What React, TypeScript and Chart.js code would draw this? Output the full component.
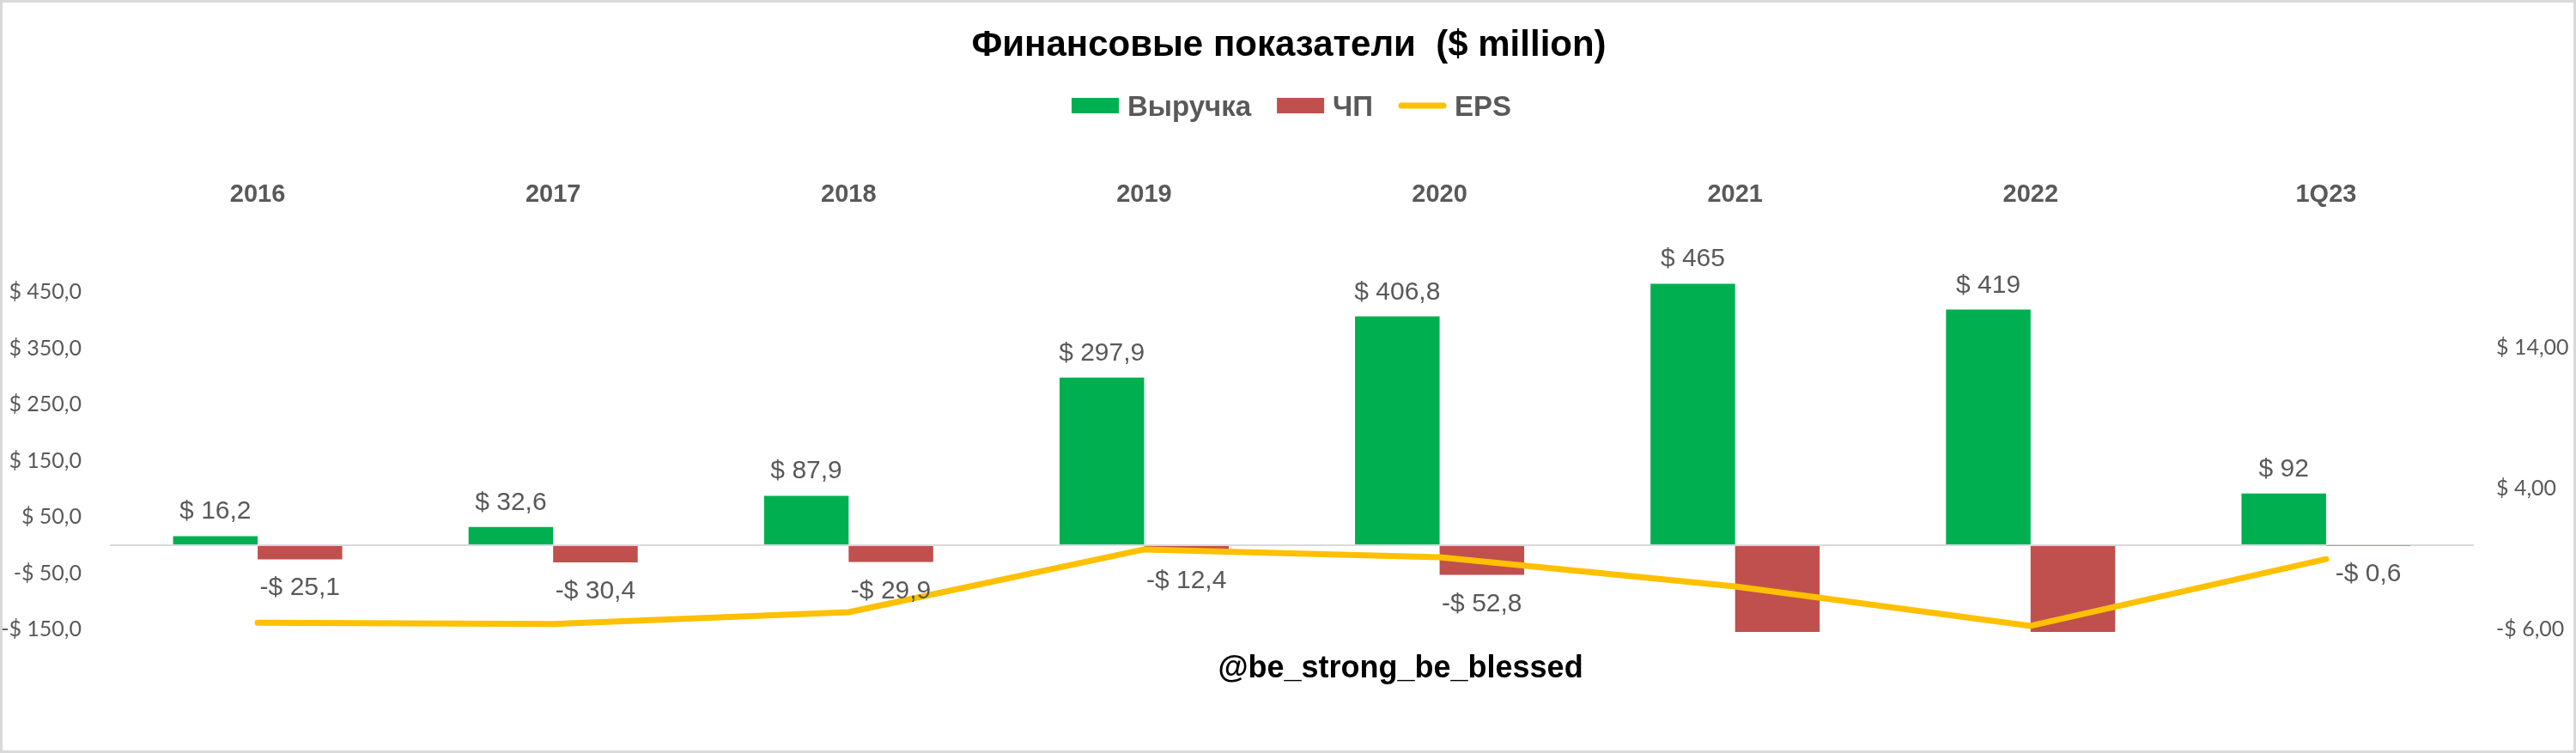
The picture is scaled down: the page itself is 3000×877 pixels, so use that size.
import React, { useEffect, useRef } from 'react';
import { Chart, registerables } from 'chart.js';

Chart.register(...registerables);

// ---- data ----
const categories = ['2016', '2017', '2018', '2019', '2020', '2021', '2022', '1Q23'];
const revenue = [16.2, 32.6, 87.9, 297.9, 406.8, 465, 419, 92];
const netProfit = [-25.1, -30.4, -29.9, -12.4, -52.8, -160, -160, -0.6];
const eps = [-5.5, -5.6, -4.76, -0.3, -0.85, -2.93, -5.73, -0.98];
const leftTicks = [-150, -50, 50, 150, 250, 350, 450];
const rightTicks = [-6, 4, 14];
const seriesNames = ['Выручка', 'ЧП', 'EPS'];
const titleText = 'Финансовые показатели  ($ million)';
const watermarkText = '@be_strong_be_blessed';

const GREEN = '#00B050';
const RED = '#C0504D';
const GOLD = '#FFC000';
const GRAY = '#595959';
const ARIAL = '"Liberation Sans", Arial, sans-serif';

const fmtMoney = (v: number, decimals: number) =>
  (v < 0 ? '-' : '') + '$ ' + Math.abs(v).toFixed(decimals).replace('.', ',');

const dataLabelPlugin = {
  id: 'dataLabels',
  afterDatasetsDraw(chart: any) {
    const ctx = chart.ctx;
    const yL = chart.scales.yL;
    ctx.save();
    ctx.font = `30px ${ARIAL}`;
    ctx.fillStyle = GRAY;
    ctx.textAlign = 'center';
    ctx.textBaseline = 'alphabetic';
    [0, 1].forEach((di) => {
      const meta = chart.getDatasetMeta(di);
      const values = chart.data.datasets[di].data as number[];
      meta.data.forEach((bar: any, j: number) => {
        const v = values[j];
        if (v < yL.min || v > yL.max) return;
        const { x, y } = bar.getProps(['x', 'y'], true);
        const label = fmtMoney(v, Number.isInteger(v) ? 0 : 1);
        if (v >= 0) ctx.fillText(label, x, y - 20);
        else ctx.fillText(label, x, y + 42);
      });
    });
    ctx.restore();
  },
};

const decorPlugin = {
  id: 'decor',
  beforeDraw(chart: any) {
    const ctx = chart.ctx;
    ctx.save();
    ctx.fillStyle = '#FFFFFF';
    ctx.fillRect(0, 0, chart.width, chart.height);
    ctx.strokeStyle = '#D9D9D9';
    ctx.lineWidth = 3;
    ctx.strokeRect(1.5, 1.5, chart.width - 3, chart.height - 3);
    ctx.restore();
  },
  afterDraw(chart: any) {
    const ctx = chart.ctx;
    ctx.save();
    // title
    ctx.fillStyle = '#000000';
    ctx.font = `bold 42px ${ARIAL}`;
    ctx.textAlign = 'center';
    ctx.textBaseline = 'alphabetic';
    ctx.fillText(titleText, 1501, 65);

    // legend
    ctx.font = `bold 33px ${ARIAL}`;
    const boxW = 55;
    const boxH = 18;
    const gapText = 10;
    const gapItem = 30;
    const colors = [GREEN, RED, GOLD];
    const widths = seriesNames.map((t) => ctx.measureText(t).width);
    const total = widths.reduce((a, w) => a + boxW + gapText + w, 0) + gapItem * (seriesNames.length - 1);
    let x = 1504 - total / 2;
    const cy = 123;
    ctx.textAlign = 'left';
    seriesNames.forEach((name, i) => {
      if (i < 2) {
        ctx.fillStyle = colors[i];
        ctx.fillRect(x, cy - boxH / 2, boxW, boxH);
      } else {
        ctx.strokeStyle = colors[i];
        ctx.lineWidth = 7;
        ctx.lineCap = 'round';
        ctx.beginPath();
        ctx.moveTo(x + 3, cy);
        ctx.lineTo(x + boxW - 3, cy);
        ctx.stroke();
      }
      ctx.fillStyle = GRAY;
      ctx.fillText(name, x + boxW + gapText, 135);
      x += boxW + gapText + widths[i] + gapItem;
    });

    // watermark
    ctx.fillStyle = '#000000';
    ctx.font = `bold 36px ${ARIAL}`;
    ctx.textAlign = 'center';
    ctx.fillText(watermarkText, 1631, 789);
    ctx.restore();
  },
};

export default function App() {
  const ref = useRef<HTMLCanvasElement>(null);

  useEffect(() => {
    if (!ref.current) return;
    const chart = new Chart(ref.current, {
      type: 'bar',
      data: {
        labels: categories,
        datasets: [
          {
            type: 'bar',
            label: seriesNames[0],
            data: revenue,
            backgroundColor: GREEN,
            yAxisID: 'yL',
            order: 1,
            barPercentage: 1,
            categoryPercentage: 0.5725,
            borderWidth: 0,
            clip: 0,
          } as any,
          {
            type: 'bar',
            label: seriesNames[1],
            data: netProfit,
            backgroundColor: RED,
            yAxisID: 'yL',
            order: 1,
            barPercentage: 1,
            categoryPercentage: 0.5725,
            borderWidth: 0,
            clip: 0,
          } as any,
          {
            type: 'line',
            label: seriesNames[2],
            data: eps,
            borderColor: GOLD,
            backgroundColor: GOLD,
            borderWidth: 7,
            pointRadius: 0,
            tension: 0,
            borderCapStyle: 'round',
            borderJoinStyle: 'round',
            yAxisID: 'yR',
            order: 0,
            clip: false,
          } as any,
        ],
      },
      options: {
        responsive: false,
        animation: false,
        devicePixelRatio: 1,
        layout: { padding: { left: 0, right: 0, top: 0, bottom: 141 } },
        plugins: {
          legend: { display: false },
          title: { display: false },
          tooltip: { enabled: false },
        },
        scales: {
          x: {
            position: 'top',
            grid: { display: false },
            border: { display: false },
            ticks: {
              color: GRAY,
              font: { family: ARIAL, size: 29, weight: 'bold' },
              padding: 4,
              maxRotation: 0,
              autoSkip: false,
            },
            afterFit: (s: any) => {
              s.height = 256;
            },
          },
          yL: {
            position: 'left',
            min: -154.2,
            max: 578.6,
            afterBuildTicks: (s: any) => {
              s.ticks = [...leftTicks, 0].sort((a, b) => a - b).map((v) => ({ value: v }));
            },
            ticks: {
              color: GRAY,
              font: { family: 'Lato', size: 25 },
              padding: 33,
              callback: (v: any) => (Number(v) === 0 ? '' : fmtMoney(Number(v), 1)),
            },
            grid: {
              color: (c: any) => (c.tick && c.tick.value === 0 ? '#D9D9D9' : 'rgba(0,0,0,0)'),
              lineWidth: 2,
              drawTicks: false,
            },
            border: { display: false },
            afterFit: (s: any) => {
              s.width = 128;
            },
          },
          yR: {
            position: 'right',
            min: -6.16,
            max: 23.11,
            afterBuildTicks: (s: any) => {
              s.ticks = rightTicks.map((v) => ({ value: v }));
            },
            ticks: {
              color: GRAY,
              font: { family: 'Lato', size: 25 },
              padding: 26,
              callback: (v: any) => fmtMoney(Number(v), 2),
            },
            grid: { display: false, drawTicks: false },
            border: { display: false },
            afterFit: (s: any) => {
              s.width = 119;
            },
          },
        } as any,
      },
      plugins: [decorPlugin, dataLabelPlugin],
    });
    return () => chart.destroy();
  }, []);

  return (
    <div style={{ position: 'fixed', left: 0, top: 0, width: 3000, height: 877, background: '#fff' }}>
      <canvas ref={ref} width={3000} height={877} style={{ display: 'block', width: 3000, height: 877 }} />
    </div>
  );
}
